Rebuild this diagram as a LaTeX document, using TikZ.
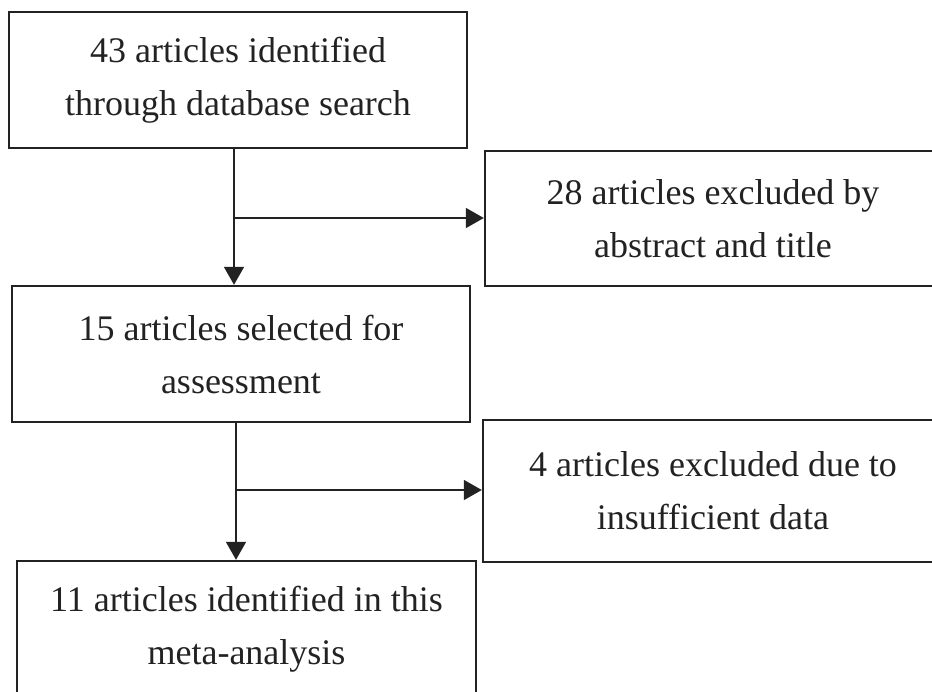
\documentclass[tikz,border=0pt]{standalone}
\usepackage{fontspec}
\setmainfont{Liberation Serif}
\usetikzlibrary{arrows.meta}
\definecolor{ink}{HTML}{222222}
\begin{document}
\begin{tikzpicture}[x=1pt,y=-1pt,
  box/.style={draw=ink,line width=2.4pt,rectangle,align=center,text=ink,
    inner sep=0pt,font=\fontsize{36}{53}\selectfont},
  arr/.style={draw=ink,line width=1.6pt,-{Triangle[width=20pt,length=18pt]}},
  ln/.style={draw=ink,line width=1.6pt}]
\useasboundingbox (0,0) rectangle (932,691);
\clip (0,0) rectangle (932,691);
\node[box,minimum width=458pt,minimum height=136pt] (b1) at (238,80)
  {43 articles identified\\through database search};
\node[box,minimum width=456pt,minimum height=135pt] (b2) at (713,218.5)
  {28 articles excluded by\\abstract and title};
\node[box,minimum width=458pt,minimum height=136pt] (b3) at (241,354)
  {15 articles selected for\\assessment};
\node[box,minimum width=460pt,minimum height=142pt] (b4) at (713,491)
  {4 articles excluded due to\\insufficient data};
\node[box,minimum width=459pt,minimum height=136pt] (b5) at (246.5,629)
  {11 articles identified in this\\meta-analysis};
\coordinate (j1) at (234,218);
\coordinate (j2) at (236,490);
\draw[arr] (b1.south -| j1) -- (b3.north -| j1);
\draw[arr] (j1) -- (j1 -| b2.west);
\draw[arr] (b3.south -| j2) -- (b5.north -| j2);
\draw[arr] (j2) -- (j2 -| b4.west);
\end{tikzpicture}
\end{document}
